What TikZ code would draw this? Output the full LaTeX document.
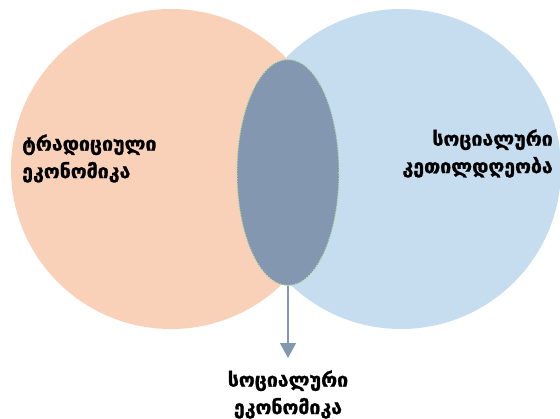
\documentclass[tikz,border=0pt]{standalone}
\usepackage{fontspec}
\usetikzlibrary{shapes.geometric,arrows.meta}
\newfontfamily\geo[BoldFeatures={FakeBold=1.2}]{DejaVu Sans}
\definecolor{leftc}{HTML}{F8D1B8}
\definecolor{rightc}{HTML}{C6DDF0}
\definecolor{midc}{HTML}{8497B0}
\definecolor{dotc}{HTML}{B8DDA0}
\begin{document}
\begin{tikzpicture}[x=1pt,y=-1pt,
  lbl/.style={font=\geo\bfseries\fontsize{19.5}{27.5}\selectfont, inner sep=0pt}]
\useasboundingbox (0,0) rectangle (560,418);
\fill[leftc] (171,169) circle[radius=160];
\fill[rightc] (401,169) circle[radius=160];
\node[ellipse, minimum width=102pt, minimum height=226pt, inner sep=0pt, fill=midc, draw=dotc, line cap=round, dash pattern=on 0pt off 2.6pt, line width=1.6pt] (mid) at (288,172.5) {};
\node[lbl, align=left, anchor=west] (lt) at (22,158.5) {ტრადიციული\\ეკონომიკა};
\node[lbl, align=right, anchor=east] (rt) at (553,153.5) {სოციალური\\კეთილდღეობა};
\node[lbl, align=center] (bt) at (288,394.5) {სოციალური\\ეკონომიკა};
\coordinate (tip) at (288,358);
\draw[midc, line width=1.2pt, -{Triangle[width=16pt,length=15pt]}] (mid.south) -- (tip);
\end{tikzpicture}
\end{document}
